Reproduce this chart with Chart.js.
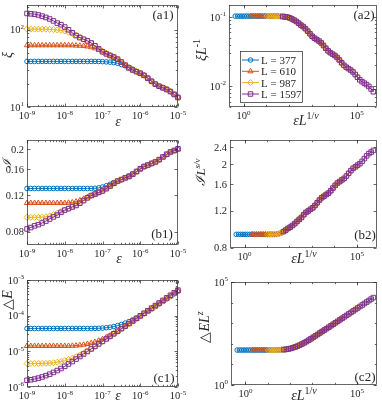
<!DOCTYPE html>
<html>
<head>
<meta charset="utf-8">
<script src="https://cdn.jsdelivr.net/npm/chart.js@4.4.0/dist/chart.umd.min.js"></script>
<style>
html, body { margin: 0; padding: 0; background: #fff; }
#wrap { position: relative; width: 382px; height: 408px; }
canvas { position: absolute; left: 0; top: 0; }
</style>
</head>
<body>
<div id="wrap">
<canvas id="a1" width="382" height="408"></canvas>
<canvas id="a2" width="382" height="408"></canvas>
<canvas id="b1" width="382" height="408"></canvas>
<canvas id="b2" width="382" height="408"></canvas>
<canvas id="c1" width="382" height="408"></canvas>
<canvas id="c2" width="382" height="408"></canvas>
</div>
<script>
// system sizes and scaling exponents (1/nu, s/nu, z)
const sizes = [377, 610, 987, 1597]
const nuInv = 3.35
const sNu = 0.332
const zExp = 2.35

// epsilon grid, 10 points per decade
const eps = [
    1e-9, 1.259e-9, 1.585e-9, 1.995e-9, 2.512e-9, 3.162e-9, 3.981e-9, 5.012e-9, 6.310e-9, 7.943e-9,
    1e-8, 1.259e-8, 1.585e-8, 1.995e-8, 2.512e-8, 3.162e-8, 3.981e-8, 5.012e-8, 6.310e-8, 7.943e-8,
    1e-7, 1.259e-7, 1.585e-7, 1.995e-7, 2.512e-7, 3.162e-7, 3.981e-7, 5.012e-7, 6.310e-7, 7.943e-7,
    1e-6, 1.259e-6, 1.585e-6, 1.995e-6, 2.512e-6, 3.162e-6, 3.981e-6, 5.012e-6, 6.310e-6, 7.943e-6,
    1e-5
]

// log10 of xi (a1)
const logXi377 = [1.591, 1.591, 1.591, 1.591, 1.591, 1.591, 1.591, 1.591, 1.591, 1.591, 1.591, 1.591, 1.591, 1.591, 1.591, 1.591, 1.591, 1.591, 1.591,
    1.590, 1.588, 1.585, 1.581, 1.576, 1.566, 1.551, 1.534, 1.514, 1.489, 1.461, 1.440, 1.410, 1.374, 1.336, 1.299, 1.272, 1.251, 1.230, 1.203, 1.166, 1.126]
const logXi610 = [1.800, 1.800, 1.800, 1.800, 1.800, 1.800, 1.800, 1.800, 1.800, 1.800, 1.800, 1.800,
    1.799, 1.797, 1.794, 1.790, 1.785, 1.775, 1.760, 1.743, 1.723, 1.698, 1.670, 1.649, 1.619, 1.583, 1.545, 1.508, 1.481, 1.460, 1.439, 1.412, 1.375, 1.335, 1.298, 1.271, 1.250, 1.229, 1.202, 1.165, 1.125]
const logXi987 = [2.009, 2.009, 2.009, 2.009, 2.009,
    2.008, 2.006, 2.003, 1.999, 1.994, 1.984, 1.969, 1.952, 1.932, 1.907, 1.879, 1.858, 1.828, 1.792, 1.754, 1.717, 1.690, 1.669, 1.648, 1.621, 1.584, 1.544, 1.507, 1.480, 1.459, 1.438, 1.411, 1.374, 1.334, 1.297, 1.270, 1.249, 1.228, 1.201, 1.164, 1.124]
const logXi1597 = [2.212, 2.208, 2.203, 2.193, 2.178, 2.161, 2.141, 2.116, 2.088, 2.067, 2.037, 2.001, 1.963, 1.926, 1.899, 1.878, 1.857, 1.830, 1.793, 1.753,
    1.716, 1.689, 1.668, 1.647, 1.620, 1.583, 1.543, 1.506, 1.479, 1.458, 1.437, 1.410, 1.373, 1.333, 1.296, 1.269, 1.248, 1.227, 1.200, 1.163, 1.123]

// log10 of I (b1)
const logI377 = [-0.889, -0.889, -0.889, -0.889, -0.889, -0.889, -0.889, -0.889, -0.889, -0.889, -0.889, -0.889, -0.889, -0.889, -0.889, -0.889, -0.889, -0.889,
    -0.888, -0.886, -0.882, -0.876, -0.869, -0.861, -0.855, -0.847, -0.838, -0.828, -0.818, -0.809, -0.796, -0.785, -0.778, -0.770, -0.763, -0.752, -0.739, -0.726, -0.715, -0.708, -0.700]
const logI610 = [-0.959, -0.959, -0.959, -0.959, -0.959, -0.959, -0.959, -0.959, -0.959, -0.959, -0.959,
    -0.958, -0.956, -0.952, -0.946, -0.939, -0.931, -0.925, -0.917, -0.908, -0.898, -0.888, -0.879, -0.866, -0.855, -0.848, -0.840, -0.833, -0.822, -0.809, -0.796, -0.785, -0.778, -0.770, -0.763, -0.752, -0.739, -0.726, -0.715, -0.708, -0.700]
const logI987 = [-1.028, -1.028, -1.028, -1.028,
    -1.027, -1.025, -1.021, -1.015, -1.008, -1.000, -0.994, -0.986, -0.977, -0.967, -0.957, -0.948, -0.935, -0.924, -0.917, -0.909, -0.902, -0.891, -0.878, -0.865, -0.854, -0.847, -0.839, -0.832, -0.821, -0.808, -0.795, -0.784, -0.777, -0.769, -0.762, -0.751, -0.738, -0.725, -0.714, -0.707, -0.699]
const logI1597 = [-1.084, -1.077, -1.069, -1.063, -1.055, -1.046, -1.036, -1.026, -1.017, -1.004, -0.993, -0.986, -0.978, -0.971, -0.960, -0.947, -0.934, -0.923, -0.916, -0.908,
    -0.901, -0.890, -0.877, -0.864, -0.853, -0.846, -0.838, -0.831, -0.820, -0.807, -0.794, -0.783, -0.776, -0.768, -0.761, -0.750, -0.737, -0.724, -0.713, -0.706, -0.698]

// log10 of the gap (c1)
const logE377 = [-4.359, -4.359, -4.359, -4.359, -4.359, -4.359, -4.359, -4.359, -4.359, -4.359, -4.359, -4.359, -4.359, -4.359, -4.359, -4.359, -4.359, -4.359,
    -4.357, -4.354, -4.348, -4.338, -4.324, -4.304, -4.278, -4.246, -4.209, -4.167, -4.119, -4.066, -4.009, -3.948, -3.882, -3.814, -3.744, -3.673, -3.602, -3.531, -3.460, -3.389, -3.319]
const logE610 = [-4.850, -4.850, -4.850, -4.850, -4.850, -4.850, -4.850, -4.850, -4.850, -4.850, -4.850,
    -4.848, -4.845, -4.839, -4.829, -4.815, -4.795, -4.769, -4.737, -4.700, -4.658, -4.610, -4.557, -4.500, -4.439, -4.373, -4.305, -4.235, -4.164, -4.093, -4.022, -3.951, -3.880, -3.810, -3.740, -3.670, -3.598, -3.526, -3.454, -3.382, -3.310]
const logE987 = [-5.341, -5.341, -5.341, -5.341,
    -5.339, -5.336, -5.330, -5.320, -5.306, -5.286, -5.260, -5.228, -5.191, -5.149, -5.101, -5.048, -4.991, -4.930, -4.864, -4.796, -4.726, -4.655, -4.584, -4.513, -4.442, -4.371, -4.301, -4.231, -4.161, -4.089, -4.017, -3.945, -3.873, -3.801, -3.729, -3.657, -3.585, -3.513, -3.441, -3.369, -3.297]
const logE1597 = [-5.811, -5.797, -5.777, -5.751, -5.719, -5.682, -5.640, -5.592, -5.539, -5.482, -5.421, -5.355, -5.287, -5.217, -5.146, -5.075, -5.004, -4.933, -4.862, -4.792,
    -4.722, -4.652, -4.580, -4.508, -4.436, -4.364, -4.292, -4.220, -4.148, -4.076, -4.004, -3.932, -3.860, -3.788, -3.716, -3.644, -3.572, -3.500, -3.428, -3.356, -3.284]

const logXi = [logXi377, logXi610, logXi987, logXi1597]
const logI = [logI377, logI610, logI987, logI1597]
const logE = [logE377, logE610, logE987, logE1597]

const colors = ['#0072BD', '#D95319', '#EDB120', '#7E2F8E']
const shapes = ['circle', 'triangle', 'rectRot', 'rect']
const radii = [2.3, 3, 3, 3.2]

const ink = '#262626'
const serif = '"Liberation Serif", "Times New Roman", serif'


function fontOf(style, size) {
    return (style.includes('i') ? 'italic ' : '') + size + 'px ' + serif
}

// draws text made of pieces, 's' = superscript, 'i' = italic
function drawParts(ctx, parts, x, y, size, align) {
    const supSize = Math.round(size * 0.7)
    let w = 0
    const widths = parts.map(([t, st]) => {
        ctx.font = fontOf(st, st.includes('s') ? supSize : size)
        const m = ctx.measureText(t).width
        w += m
        return m
    })
    let cx = align === 'right' ? x - w : align === 'left' ? x : x - w / 2
    ctx.textAlign = 'left'
    ctx.textBaseline = 'alphabetic'
    parts.forEach(([t, st], i) => {
        const sup = st.includes('s')
        ctx.font = fontOf(st, sup ? supSize : size)
        ctx.fillText(t, cx, sup ? y - size * 0.42 : y)
        cx += widths[i]
    })
}

function decades(min, max, mults) {
    const out = []
    for (let d = Math.floor(Math.log10(min)); d <= Math.ceil(Math.log10(max)); d++) {
        mults.forEach(m => {
            const v = m * 10 ** d
            if (v >= min * 0.999 && v <= max * 1.001) out.push(v)
        })
    }
    return out
}

const pow = e => [['10', ''], [String(e), 's']]


// box, inward ticks, tick labels, titles, tag and legend
const frame = {
    id: 'frame',
    afterDatasetsDraw(chart, args, o) {
        const ctx = chart.ctx, a = chart.chartArea, sx = chart.scales.x, sy = chart.scales.y
        const L = Math.round(a.left) + 0.5, R = Math.round(a.right) - 0.5
        const T = Math.round(a.top) + 0.5, B = Math.round(a.bottom) - 0.5
        ctx.save()
        ctx.strokeStyle = ink
        ctx.lineWidth = 0.7
        ctx.strokeRect(L, T, R - L, B - T)

        ctx.beginPath()
        const xt = (v, len) => {
            const p = Math.round(sx.getPixelForValue(v)) + 0.5
            ctx.moveTo(p, B); ctx.lineTo(p, B - len)
            ctx.moveTo(p, T); ctx.lineTo(p, T + len)
        }
        const yt = (v, len) => {
            const p = Math.round(sy.getPixelForValue(v)) + 0.5
            ctx.moveTo(L, p); ctx.lineTo(L + len, p)
            ctx.moveTo(R, p); ctx.lineTo(R - len, p)
        }
        o.xMajor.forEach(v => xt(v, 3))
        o.xMinor.forEach(v => xt(v, 1.7))
        o.yMajor.forEach(v => yt(v, 3))
        o.yMinor.forEach(v => yt(v, 1.7))
        ctx.stroke()

        ctx.fillStyle = ink
        o.xLabels.forEach(([v, parts]) => drawParts(ctx, parts, sx.getPixelForValue(v), a.bottom + 12, 10.5, 'center'))
        o.yLabels.forEach(([v, parts]) => drawParts(ctx, parts, a.left - 3, sy.getPixelForValue(v) + 3.6, 10.5, 'right'))

        drawParts(ctx, o.xTitle, o.xTitleAt[0], o.xTitleAt[1], 14, 'center')
        ctx.save()
        ctx.translate(o.yTitleAt[0], o.yTitleAt[1])
        ctx.rotate(-Math.PI / 2)
        drawParts(ctx, o.yTitle, 0, 5, o.yTitleSize || 14, 'center')
        ctx.restore()

        drawParts(ctx, [[o.tag, '']], o.tagAt[0], o.tagAt[1], 13, 'center')

        if (o.legend) {
            const g = o.legend
            ctx.fillStyle = '#fff'
            ctx.fillRect(g.x, g.y, g.w, g.h)
            ctx.strokeStyle = ink
            ctx.lineWidth = 0.7
            ctx.strokeRect(g.x + 0.5, g.y + 0.5, g.w, g.h)
            chart.data.datasets.forEach((ds, i) => {
                const y = g.rows[i]
                ctx.strokeStyle = ds.borderColor
                ctx.lineWidth = 1
                ctx.beginPath()
                ctx.moveTo(g.x + 2, y)
                ctx.lineTo(g.x + 19, y)
                ctx.stroke()
                ctx.fillStyle = 'rgba(0,0,0,0)'
                Chart.helpers.drawPoint(ctx, { pointStyle: ds.pointStyle, radius: ds.pointRadius, borderWidth: 1, rotation: 0 }, g.x + 10.5, y)
                ctx.fillStyle = ink
                drawParts(ctx, [[ds.label, '']], g.x + 21, y + 4, 11, 'left')
            })
        }
        ctx.restore()
    }
}


function series(k, xs, ys) {
    return {
        label: 'L = ' + sizes[k],
        data: xs.map((x, i) => ({ x, y: ys[i] })),
        borderColor: colors[k],
        backgroundColor: colors[k],
        borderWidth: 1,
        pointStyle: shapes[k],
        pointRadius: radii[k],
        pointBorderWidth: 1,
        pointBackgroundColor: 'rgba(0,0,0,0)',
        order: 3 - k,
        clip: false
    }
}


function printPanel(id, area, xRange, yRange, datasets, deco) {
    new Chart(id, {
        type: 'line',
        data: { datasets },
        options: {
            responsive: false,
            animation: false,
            events: [],
            layout: { padding: { left: area[0], right: 382 - area[1], top: area[2], bottom: 408 - area[3] } },
            scales: {
                x: { type: 'logarithmic', min: xRange[0], max: xRange[1], display: false },
                y: { type: 'logarithmic', min: yRange[0], max: yRange[1], display: false }
            },
            plugins: {
                legend: { display: false },
                tooltip: { enabled: false },
                frame: deco
            }
        },
        plugins: [frame]
    })
}


// left column: raw data against epsilon
const epsRange = [1e-9, 1e-5]
const epsLabels = [-9, -8, -7, -6, -5].map(e => [10 ** e, pow(e)])
const epsMinor = decades(1e-9, 1e-5, [2, 3, 4, 5, 6, 7, 8, 9])
const epsMajor = decades(1e-9, 1e-5, [1])

// right column: collapsed data against eps*L^(1/nu)
const scaledRange = [0.226, 7.8e5]
const scaledLabels = [[1, pow(0)], [1e5, pow(5)]]
const scaledMinor = decades(0.226, 7.8e5, [1])

const epsTitle = [['ε', 'i']]
const scaledTitle = [['εL', 'i'], ['1/', 's'], ['ν', 'si']]


printPanel('a1', [27, 178, 3, 107], epsRange, [10, 210],
    sizes.map((L, k) => series(k, eps, logXi[k].map(v => 10 ** v))),
    {
        xMajor: epsMajor, xMinor: epsMinor, yMajor: [10, 100], yMinor: decades(10, 210, [2, 3, 4, 5, 6, 7, 8, 9]),
        xLabels: epsLabels, yLabels: [[10, pow(1)], [100, pow(2)]],
        xTitle: epsTitle, xTitleAt: [118, 126], yTitle: [['ξ', 'i']], yTitleAt: [7, 55],
        tag: '(a1)', tagAt: [163, 19]
    })

printPanel('a2', [229, 378, 3, 107], scaledRange, [0.005, 0.15],
    sizes.map((L, k) => series(k, eps.map(e => e * L ** nuInv), logXi[k].map(v => 10 ** v / L))),
    {
        xMajor: [1, 1e5], xMinor: scaledMinor, yMajor: [0.01, 0.1], yMinor: decades(0.005, 0.15, [2, 3, 4, 5, 6, 7, 8, 9]),
        xLabels: scaledLabels, yLabels: [[0.01, pow(-2)], [0.1, pow(-1)]],
        xTitle: scaledTitle, xTitleAt: [306, 125], yTitle: [['ξL', 'i'], ['-1', 's']], yTitleAt: [201, 50],
        tag: '(a2)', tagAt: [364, 19],
        legend: { x: 240, y: 51, w: 62, h: 51, rows: [60, 71.3, 82.6, 94] }
    })

printPanel('b1', [27, 178, 140, 245], epsRange, [0.069, 0.221],
    sizes.map((L, k) => series(k, eps, logI[k].map(v => 10 ** v))),
    {
        xMajor: epsMajor, xMinor: epsMinor, yMajor: [0.08, 0.12, 0.16, 0.2], yMinor: [],
        xLabels: epsLabels, yLabels: [[0.08, [['0.08', '']]], [0.12, [['0.12', '']]], [0.16, [['0.16', '']]], [0.2, [['0.2', '']]]],
        xTitle: epsTitle, xTitleAt: [119, 263], yTitle: [['ℐ', 'i']], yTitleAt: [6, 163], yTitleSize: 12,
        tag: '(b1)', tagAt: [162, 238]
    })

printPanel('b2', [230, 378, 140, 248], scaledRange, [0.797, 2.6],
    sizes.map((L, k) => series(k, eps.map(e => e * L ** nuInv), logI[k].map(v => 10 ** v * L ** sNu))),
    {
        xMajor: [1, 1e5], xMinor: scaledMinor, yMajor: [0.8, 1.2, 1.6, 2, 2.4], yMinor: [],
        xLabels: scaledLabels, yLabels: [[0.8, [['0.8', '']]], [1.2, [['1.2', '']]], [1.6, [['1.6', '']]], [2, [['2', '']]], [2.4, [['2.4', '']]]],
        xTitle: scaledTitle, xTitleAt: [304, 263], yTitle: [['ℐ', 'i'], ['L', 'i'], ['s/ν', 'si']], yTitleAt: [200, 172], yTitleSize: 13,
        tag: '(b2)', tagAt: [365, 239]
    })

printPanel('c1', [27, 178, 280, 387], epsRange, [1e-6, 1e-3],
    sizes.map((L, k) => series(k, eps, logE[k].map(v => 10 ** v))),
    {
        xMajor: epsMajor, xMinor: epsMinor, yMajor: [1e-6, 1e-5, 1e-4, 1e-3], yMinor: decades(1e-6, 1e-3, [2, 3, 4, 5, 6, 7, 8, 9]),
        xLabels: epsLabels, yLabels: [[1e-6, pow(-6)], [1e-5, pow(-5)], [1e-4, pow(-4)], [1e-3, pow(-3)]],
        xTitle: epsTitle, xTitleAt: [118, 400], yTitle: [['△', ''], ['E', 'i']], yTitleAt: [7, 300],
        tag: '(c1)', tagAt: [164, 382]
    })

printPanel('c2', [231, 378, 282, 385], scaledRange, [1, 1e5],
    sizes.map((L, k) => series(k, eps.map(e => e * L ** nuInv), logE[k].map(v => 10 ** v * L ** zExp))),
    {
        xMajor: [1, 1e5], xMinor: scaledMinor, yMajor: [1, 1e5], yMinor: decades(1, 1e5, [1]),
        xLabels: scaledLabels, yLabels: [[1, pow(0)], [1e5, pow(5)]],
        xTitle: scaledTitle, xTitleAt: [304, 400], yTitle: [['△', ''], ['EL', 'i'], ['z', 'si']], yTitleAt: [204, 327],
        tag: '(c2)', tagAt: [365, 381]
    })
</script>
</body>
</html>
